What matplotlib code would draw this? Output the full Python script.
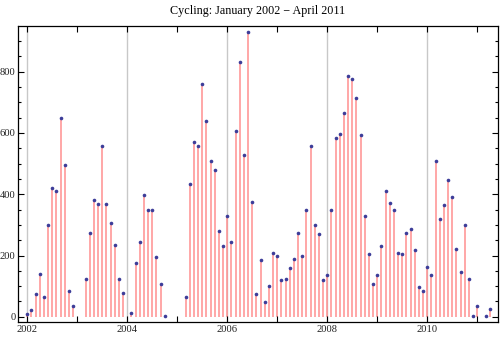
import numpy as np
import matplotlib
matplotlib.use("Agg")
from matplotlib import pyplot as plt
from matplotlib.ticker import MultipleLocator

nan = np.nan

# monthly totals, Jan..Dec (nan = no data that month)
y2002 = [8, 21, 76, 141, 66, 298, 419, 409, 648, 494, 83, 35]
y2003 = [nan, nan, 125, 272, 380, 367, 559, 368, 306, 233, 125, 79]
y2004 = [nan, 14, 177, 243, 396, 350, 347, 194, 106, 4, nan, nan]
y2005 = [nan, nan, 63, 435, 569, 559, 759, 638, 507, 478, 279, 230]
y2006 = [328, 243, 605, 830, 527, 928, 375, 73, 184, 47, 102, 207]
y2007 = [200, 119, 122, 158, 190, 275, 200, 347, 558, 301, 269, 119]
y2008 = [135, 347, 582, 595, 664, 785, 775, 713, 592, 328, 204, 106]
y2009 = [138, 230, 409, 370, 347, 207, 204, 275, 285, 217, 96, 83]
y2010 = [164, 138, 507, 318, 364, 445, 390, 220, 145, 301, 125, 1]
y2011 = [34, nan, 1, 27]

years = [2002, 2003, 2004, 2005, 2006, 2007, 2008, 2009, 2010, 2011]
per_year = [y2002, y2003, y2004, y2005, y2006, y2007, y2008, y2009, y2010, y2011]

t = []
v = []
for yr, vals in zip(years, per_year):
    for m, val in enumerate(vals):
        t.append(yr + m / 12.0)
        v.append(val)
t = np.array(t)
v = np.array(v, dtype=float)
ok = ~np.isnan(v)

plt.rcParams['font.family'] = ['Liberation Serif', 'DejaVu Serif']

fig = plt.figure(figsize=(5, 3.38), dpi=100)
ax = fig.add_axes([0.0366, 0.0464, 0.9588, 0.8766])

for yr in [2002, 2004, 2006, 2008, 2010]:
    ax.axvline(yr, color='#c8c8c8', lw=1, zorder=0)

ax.vlines(t[ok], 0, v[ok], color='#ff9090', lw=1.1, zorder=1)
ax.plot(t[ok], v[ok], 'o', color='#3d3d99', ms=2.6, mec='none', zorder=3)

ax.set_xlim(2001.82, 2011.41)
ax.set_ylim(-18, 949)

ax.set_xticks([2002, 2004, 2006, 2008, 2010])
ax.set_xticklabels(['2002', '2004', '2006', '2008', '2010'])
ax.xaxis.set_minor_locator(MultipleLocator(1))
ax.yaxis.set_major_locator(MultipleLocator(200))
ax.yaxis.set_minor_locator(MultipleLocator(50))

ax.tick_params(which='both', direction='in', top=True, right=True,
               labelsize=7.6, colors='black', labelcolor='#222222', width=0.8)
ax.tick_params(which='major', length=4, pad=2)
ax.tick_params(which='minor', length=2.5)
ax.tick_params(axis='x', which='minor', length=4)
for s in ax.spines.values():
    s.set_linewidth(0.9)

ax.set_title('Cycling: January 2002 \u2212 April 2011', fontsize=8.7, pad=9)

fig.savefig('out.png', dpi=100)
